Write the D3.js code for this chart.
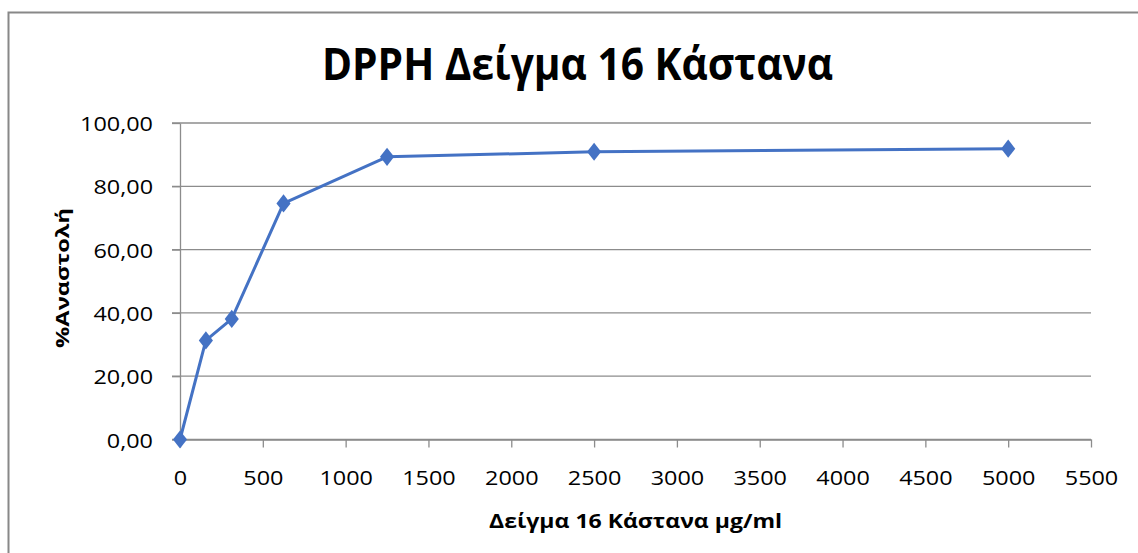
<!DOCTYPE html>
<html>
<head>
<meta charset="utf-8">
<script src="https://cdn.jsdelivr.net/npm/d3@7"></script>
<style>
  html, body { margin: 0; padding: 0; background: #fff; }
  svg { display: block; }
  text { font-family: "Open Sans", "Noto Sans", sans-serif; fill: #000; }
</style>
</head>
<body>
<svg id="chart" width="1138" height="553"></svg>
<script>
// Concentration (µg/ml) and inhibition (%) for sample 16
const concentrations = [0, 156.25, 312.5, 625, 1250, 2500, 5000];
const inhibition = [0.00, 31.3, 38.1, 74.6, 89.3, 90.9, 91.9];
const xTicks = [0, 500, 1000, 1500, 2000, 2500, 3000, 3500, 4000, 4500, 5000, 5500];
const yTicks = [0, 20, 40, 60, 80, 100];

const chartTitle = "DPPH Δείγμα 16 Κάστανα";
const xTitle = "Δείγμα 16 Κάστανα μg/ml";
const yTitle = "%Αναστολή";

const W = 1138, H = 553;
const plot = { left: 180, right: 1091, top: 123, bottom: 439.5 };
const lineColor = "#4472C4";
const gridColor = "#8c8c8c";
const stretch = 1.2;

const svg = d3.select("#chart");

// Outer chart frame (extends past the right and bottom edges)
svg.append("rect")
  .attr("x", 8.5).attr("y", 12.5)
  .attr("width", W + 10).attr("height", H + 10)
  .attr("fill", "#fff").attr("stroke", "#888").attr("stroke-width", 2);

const x = d3.scaleLinear().domain([0, 5500]).range([plot.left, plot.right]);
const y = d3.scaleLinear().domain([0, 100]).range([plot.bottom, plot.top]);

// Horizontal gridlines
svg.append("g")
  .selectAll("line")
  .data(yTicks)
  .join("line")
  .attr("x1", plot.left - 8).attr("x2", plot.right)
  .attr("y1", d => y(d)).attr("y2", d => y(d))
  .attr("stroke", gridColor).attr("stroke-width", 1.3);

// Y axis
const yAxis = svg.append("g")
  .attr("transform", `translate(${plot.left},0)`)
  .call(d3.axisLeft(y).tickValues(yTicks).tickSize(8).tickSizeOuter(0)
    .tickFormat(d => d3.format(".2f")(d).replace(".", ",")));
yAxis.select(".domain").attr("stroke", gridColor).attr("stroke-width", 1.3);
yAxis.selectAll(".tick line").attr("stroke", gridColor).attr("stroke-width", 1.3);
yAxis.selectAll(".tick text")
  .attr("x", null).attr("dy", null)
  .attr("font-size", 19.5)
  .attr("text-anchor", "end")
  .attr("dominant-baseline", "central")
  .attr("transform", `translate(-27,0) scale(${stretch},1)`);

// X axis
const xAxis = svg.append("g")
  .attr("transform", `translate(0,${plot.bottom})`)
  .call(d3.axisBottom(x).tickValues(xTicks).tickSize(8).tickSizeOuter(0).tickFormat(d3.format("d")));
xAxis.select(".domain").attr("stroke", gridColor).attr("stroke-width", 1.3);
xAxis.selectAll(".tick line").attr("stroke", gridColor).attr("stroke-width", 1.3);
xAxis.selectAll(".tick text")
  .attr("y", null).attr("dy", null)
  .attr("font-size", 19.5)
  .attr("text-anchor", "middle")
  .attr("dominant-baseline", "central")
  .attr("transform", `translate(0,38) scale(${stretch},1)`);

// Data line and diamond markers
const line = d3.line().x((d, i) => x(concentrations[i])).y(d => y(d));
svg.append("path")
  .datum(inhibition)
  .attr("d", line)
  .attr("fill", "none")
  .attr("stroke", lineColor)
  .attr("stroke-width", 3)
  .attr("stroke-linejoin", "round");

const diamond = d3.symbol().type(d3.symbolDiamond).size(95);
svg.append("g")
  .selectAll("path")
  .data(inhibition)
  .join("path")
  .attr("d", diamond)
  .attr("transform", (d, i) => `translate(${x(concentrations[i])},${y(d)}) scale(1.35,1)`)
  .attr("fill", lineColor);

// Titles
svg.append("text")
  .attr("x", 577.5).attr("y", 80)
  .attr("text-anchor", "middle")
  .attr("font-size", 44).attr("font-weight", "bold")
  .attr("textLength", 511).attr("lengthAdjust", "spacingAndGlyphs")
  .text(chartTitle);

svg.append("text")
  .attr("x", (plot.left + plot.right) / 2).attr("y", 528)
  .attr("text-anchor", "middle")
  .attr("font-size", 19).attr("font-weight", "bold")
  .attr("textLength", 293).attr("lengthAdjust", "spacingAndGlyphs")
  .text(xTitle);

svg.append("text")
  .attr("transform", "translate(69,278) rotate(-90)")
  .attr("text-anchor", "middle")
  .attr("font-size", 17).attr("font-weight", "bold")
  .attr("textLength", 140).attr("lengthAdjust", "spacingAndGlyphs")
  .text(yTitle);
</script>
</body>
</html>
